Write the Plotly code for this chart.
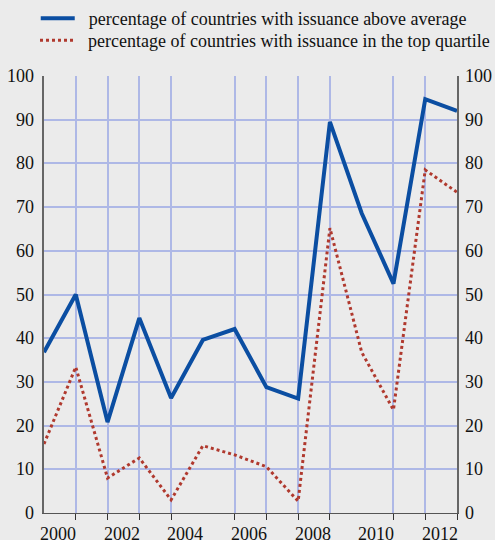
import plotly.graph_objects as go

periods = [2000, 2001, 2002, 2003, 2004, 2005, 2006, 2007, 2008, 2009, 2010, 2011, 2012, 2013]
above_average = [36.8, 50.0, 20.8, 44.6, 26.3, 39.6, 42.1, 28.8, 26.2, 89.5, 68.6, 52.5, 94.7, 92.0]
top_quartile = [15.8, 33.4, 8.0, 12.6, 3.0, 15.4, 13.3, 10.6, 2.7, 65.2, 36.8, 23.6, 78.5, 73.4]
label_years = [2000, 2002, 2004, 2006, 2008, 2010, 2012]
y_ticks = [0, 10, 20, 30, 40, 50, 60, 70, 80, 90, 100]
series_names = ["percentage of countries with issuance above average",
                "percentage of countries with issuance in the top quartile"]

BG = "#ebebeb"
GRID = "#aeb8e6"
BLUE = "#0b4ea2"
RED = "#b0392e"
FONT = "Liberation Serif"
TXT = "#111111"
FS = 18

fig = go.Figure()
fig.add_trace(go.Scatter(
    x=periods, y=above_average, mode="lines",
    name="\u00a0\u00a0" + series_names[0], legend="legend",
    line=dict(color=BLUE, width=4),
))
fig.add_trace(go.Scatter(
    x=periods, y=top_quartile, mode="lines",
    name="\u00a0\u00a0" + series_names[1], legend="legend2",
    line=dict(color=RED, width=3, dash="dot"),
))
fig.add_trace(go.Scatter(x=periods, y=above_average, yaxis="y2", mode="lines",
                         line=dict(width=0), showlegend=False, hoverinfo="skip"))

# tick labels (serif) placed on the axes' own scales
for v in y_ticks:
    fig.add_annotation(x=0, xref="paper", y=v, yref="y", text=str(v),
                       xanchor="right", yanchor="middle", xshift=-8,
                       showarrow=False, font=dict(family=FONT, size=FS, color=TXT))
    fig.add_annotation(x=1, xref="paper", y=v, yref="y", text=str(v),
                       xanchor="left", yanchor="middle", xshift=6,
                       showarrow=False, font=dict(family=FONT, size=FS, color=TXT))
for yr in label_years:
    fig.add_annotation(x=yr + 0.5, xref="x", y=0, yref="paper", text=str(yr),
                       xanchor="center", yanchor="middle", yshift=-21, xshift=-1.5,
                       showarrow=False, font=dict(family=FONT, size=FS, color=TXT))

legend_common = dict(
    x=-0.02, xanchor="left", yanchor="top", yref="container", xref="paper",
    font=dict(family=FONT, size=FS, color=TXT),
    bgcolor="rgba(0,0,0,0)", itemwidth=34, tracegroupgap=0,
)

fig.update_layout(
    width=495, height=540,
    paper_bgcolor=BG, plot_bgcolor=BG,
    margin=dict(l=44, r=38, t=76, b=27),
    font=dict(family=FONT, size=FS, color=TXT),
    showlegend=True,
    legend=dict(y=1.0 + 1 / 540, **legend_common),
    legend2=dict(y=1.0 - 22 / 540, **legend_common),
    xaxis=dict(
        range=[2000, 2013],
        showticklabels=False,
        ticks="", showgrid=False, zeroline=False, automargin=False,
        showline=True, linecolor="#555555", linewidth=1,
        minor=dict(tickmode="linear", tick0=2000, dtick=1, showgrid=True,
                   gridcolor=GRID, gridwidth=1.5, ticks="outside", ticklen=6,
                   tickcolor="#333333", tickwidth=1),
    ),
    yaxis=dict(
        range=[0, 100], tickvals=y_ticks, showgrid=True, gridcolor=GRID, gridwidth=1.5,
        zeroline=False, showline=True, linecolor="#666666", linewidth=2,
        ticks="", showticklabels=False, automargin=False,
    ),
    yaxis2=dict(
        range=[0, 100], tickvals=y_ticks, overlaying="y", side="right",
        showgrid=False, zeroline=False, showline=True, linecolor="#666666", linewidth=2,
        ticks="", showticklabels=False, automargin=False,
    ),
)

fig.write_html("out.html", post_script="document.body.style.margin='0px';",
               config={"displayModeBar": False})
